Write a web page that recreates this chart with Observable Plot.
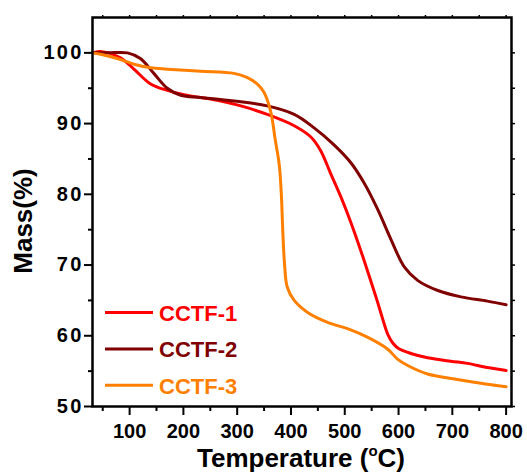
<!DOCTYPE html>
<html><head><meta charset="utf-8">
<script src="https://cdn.jsdelivr.net/npm/d3@7"></script>
<script src="https://cdn.jsdelivr.net/npm/@observablehq/plot@0.6"></script>
<style>
body{margin:0;background:#fff}
svg{display:block}
</style>
</head><body><div id="chart"></div>
<script>
const seriesNames = ["CCTF-1", "CCTF-2", "CCTF-3"];
const seriesColors = ["#FF0000", "#800000", "#FF8000"];

const temp1 = [31, 45, 83, 108, 139, 170, 201, 263, 307, 356, 406, 437, 455, 474, 493, 511, 530, 549, 560, 570, 580, 590, 600, 623, 654, 697, 728, 765, 800];
const mass1 = [100, 100.2, 99.3, 97.7, 95.6, 94.7, 94.1, 93.3, 92.5, 91.3, 89.7, 88.1, 86.2, 82.9, 79.6, 76.1, 72.0, 67.6, 65.0, 62.5, 60.2, 58.9, 58.2, 57.5, 56.9, 56.4, 56.1, 55.5, 55.1];

const temp2 = [31, 60, 96, 120, 145, 170, 195, 232, 294, 356, 406, 443, 480, 511, 536, 561, 586, 611, 636, 673, 716, 765, 800];
const mass2 = [100, 100, 100, 99.2, 97.1, 95.0, 94.0, 93.7, 93.2, 92.5, 91.3, 89.4, 87.0, 84.5, 81.6, 77.9, 73.6, 69.7, 67.8, 66.4, 65.5, 64.9, 64.4];

const temp3 = [31, 46, 77, 108, 139, 170, 232, 294, 319, 337, 350, 362, 371, 378, 382, 385, 388, 393, 406, 431, 468, 505, 542, 580, 598, 617, 654, 704, 753, 800];
const mass3 = [100, 99.8, 99.2, 98.4, 97.9, 97.7, 97.4, 97.1, 96.5, 95.6, 94.4, 91.8, 87.6, 84.3, 80.1, 74.4, 70.2, 66.9, 65.0, 63.3, 61.9, 61.0, 59.8, 58.1, 56.7, 55.8, 54.6, 53.9, 53.3, 52.8];

const xMajorTicks = [100, 200, 300, 400, 500, 600, 700, 800];
const xMinorTicks = [50, 150, 250, 350, 450, 550, 650, 750];
const yMajorTicks = [50, 60, 70, 80, 90, 100];
const yMinorTicks = [55, 65, 75, 85, 95];

const xTitle = "Temperature (";
const xTitleSup = "o";
const xTitleEnd = "C)";
const yTitle = "Mass(%)";

const rows = [];
[[temp1, mass1], [temp2, mass2], [temp3, mass3]].forEach(([t, m], i) =>
  t.forEach((v, j) => rows.push({series: seriesNames[i], t: v, m: m[j]})));

const font = "'Liberation Sans', Arial, sans-serif";
const tickText = {fontSize: 20, fontWeight: "bold", fill: "black"};

const plot = Plot.plot({
  width: 527, height: 472,
  marginTop: 17, marginRight: 16, marginBottom: 66, marginLeft: 92,
  style: {fontFamily: font, background: "white", color: "black", overflow: "visible"},
  x: {domain: [31, 810]},
  y: {domain: [50, 105]},
  color: {domain: seriesNames, range: seriesColors},
  marks: [
    Plot.line(rows, {x: "t", y: "m", z: "series", stroke: "series", strokeWidth: 3, curve: "catmull-rom"}),
    Plot.axisX({ticks: xMajorTicks, tickSize: 9, tickPadding: 8, strokeWidth: 2, label: null, ...tickText}),
    Plot.axisX({ticks: xMinorTicks, tickSize: 5, strokeWidth: 2, label: null, tickFormat: () => ""}),
    Plot.axisX({anchor: "top", ticks: xMajorTicks.concat(xMinorTicks), tickSize: 3, strokeWidth: 1.5, label: null, tickFormat: () => ""}),
    Plot.axisY({ticks: yMajorTicks, tickSize: 8, tickPadding: 1, strokeWidth: 2, label: null, ...tickText}),
    Plot.axisY({ticks: yMinorTicks, tickSize: 4, strokeWidth: 2, label: null, tickFormat: () => ""}),
    Plot.axisY({anchor: "right", ticks: yMajorTicks.concat(yMinorTicks), tickSize: 3, strokeWidth: 1.5, label: null, tickFormat: () => ""}),
    Plot.frame({stroke: "black", strokeWidth: 2.5})
  ]
});

const svg = d3.select(plot);

// enforce bold tick label font; y labels are drawn a bit wider in the reference
svg.selectAll("text").filter(function () { return /^\d+$/.test(this.textContent.trim()); })
  .style("font-size", "20px").style("font-weight", "bold")
  .style("font-family", font).style("fill", "black")
  .each(function () {
    const g = this.closest("g[aria-label]");
    if (g && /y-axis/.test(g.getAttribute("aria-label"))) d3.select(this).style("letter-spacing", "2.2px");
  });

// axis titles
const xt = svg.append("text")
  .attr("x", 301).attr("y", 467)
  .attr("text-anchor", "middle")
  .attr("font-family", font).attr("font-weight", "bold").attr("font-size", 26)
  .attr("fill", "black");
xt.append("tspan").text(xTitle);
xt.append("tspan").attr("font-size", 15).attr("dy", -11).text(xTitleSup);
xt.append("tspan").attr("dy", 11).text(xTitleEnd);

svg.append("text")
  .attr("transform", "translate(32,221) rotate(-90)")
  .attr("text-anchor", "middle")
  .attr("font-family", font).attr("font-weight", "bold").attr("font-size", 26)
  .attr("fill", "black")
  .text(yTitle);

// legend
const lg = svg.append("g").attr("text-anchor", "start");
seriesNames.forEach((name, i) => {
  const y = 312.5 + i * 36.4;
  lg.append("line").attr("x1", 105).attr("x2", 153).attr("y1", y).attr("y2", y)
    .attr("stroke", seriesColors[i]).attr("stroke-width", 3);
  lg.append("text").attr("x", 159).attr("y", y + 8.3)
    .attr("text-anchor", "start")
    .attr("font-family", font).attr("font-weight", "bold").attr("font-size", 22)
    .attr("fill", seriesColors[i]).text(name);
});

document.getElementById("chart").append(plot);
</script>
</body></html>
